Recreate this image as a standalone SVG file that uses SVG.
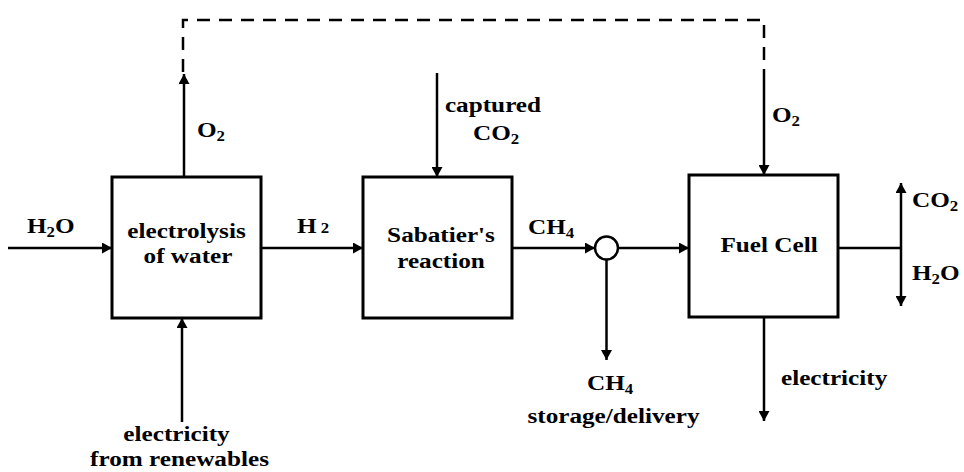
<svg xmlns="http://www.w3.org/2000/svg" width="964" height="472" viewBox="0 0 964 472">
<style>
.box{fill:#fff;stroke:#000;stroke-width:3}
.ln{fill:none;stroke:#000;stroke-width:2.5}
.dash{fill:none;stroke:#000;stroke-width:2.5;stroke-dasharray:13 9}
text{font-family:'Liberation Serif','DejaVu Serif',serif;font-weight:700;font-size:21px;fill:#000}
.c{text-anchor:middle}
.s{font-size:14px}
</style>
<defs>
<marker id="ah" markerWidth="11" markerHeight="11" refX="10" refY="5.5" orient="auto" markerUnits="userSpaceOnUse">
<path d="M0,0 L10,5.5 L0,11 Z" fill="#000"/>
</marker>
</defs>
<rect width="964" height="472" fill="#fff"/>
<g id="connectors">
<line class="ln" x1="8" y1="248" x2="112" y2="248" marker-end="url(#ah)"/>
<line class="ln" x1="261" y1="248" x2="363" y2="248" marker-end="url(#ah)"/>
<line class="ln" x1="512" y1="248" x2="595" y2="248" marker-end="url(#ah)"/>
<line class="ln" x1="618" y1="248" x2="689" y2="248" marker-end="url(#ah)"/>
<line class="ln" x1="606.5" y1="259.5" x2="606.5" y2="360" marker-end="url(#ah)"/>
<line class="ln" x1="184" y1="177" x2="184" y2="74" marker-end="url(#ah)"/>
<path class="dash" d="M183,72 L183,20 L764,20 L764,72"/>
<line class="ln" x1="764" y1="72" x2="764" y2="175" marker-end="url(#ah)"/>
<line class="ln" x1="437" y1="73" x2="437" y2="177" marker-end="url(#ah)"/>
<line class="ln" x1="182" y1="422" x2="182" y2="318" marker-end="url(#ah)"/>
<line class="ln" x1="838" y1="248" x2="901" y2="248"/>
<line class="ln" x1="901" y1="248" x2="901" y2="183" marker-end="url(#ah)"/>
<line class="ln" x1="901" y1="248" x2="901" y2="306" marker-end="url(#ah)"/>
<line class="ln" x1="764" y1="317" x2="764" y2="421" marker-end="url(#ah)"/>
</g>
<g id="electrolysis">
<rect class="box" x="112" y="177" width="149" height="141"/>
<text class="c" transform="translate(186.5,238) scale(1.2,1)">electrolysis</text>
<text class="c" transform="translate(188,263) scale(1.2,1)">of water</text>
</g>
<g id="sabatier">
<rect class="box" x="363" y="177" width="149" height="141"/>
<text class="c" transform="translate(441,242) scale(1.2,1)">Sabatier's</text>
<text class="c" transform="translate(441,268) scale(1.2,1)">reaction</text>
</g>
<g id="fuelcell">
<rect class="box" x="689" y="175" width="149" height="142"/>
<text class="c" transform="translate(769,252) scale(1.2,1)">Fuel Cell</text>
</g>
<g id="junction">
<circle cx="606.5" cy="248" r="11.5" fill="#fff" stroke="#000" stroke-width="2.5"/>
</g>
<g id="labels">
<text transform="translate(27,233) scale(1.2,1)">H<tspan class="s" dy="4">2</tspan><tspan dy="-4">O</tspan></text>
<text transform="translate(297,233) scale(1.2,1)">H<tspan class="s"> 2</tspan></text>
<text transform="translate(197,137) scale(1.2,1)">O<tspan class="s" dy="4">2</tspan></text>
<text transform="translate(772,122) scale(1.2,1)">O<tspan class="s" dy="4">2</tspan></text>
<text class="c" transform="translate(493,112) scale(1.2,1)">captured</text>
<text transform="translate(473,140) scale(1.2,1)">CO<tspan class="s" dy="4">2</tspan></text>
<text transform="translate(528,234) scale(1.2,1)">CH<tspan class="s" dy="4">4</tspan></text>
<text transform="translate(912,207) scale(1.2,1)">CO<tspan class="s" dy="4">2</tspan></text>
<text transform="translate(912,280) scale(1.2,1)">H<tspan class="s" dy="4">2</tspan><tspan dy="-4">O</tspan></text>
<text transform="translate(587,390) scale(1.2,1)">CH<tspan class="s" dy="4">4</tspan></text>
<text class="c" transform="translate(613.5,423) scale(1.2,1)">storage/delivery</text>
<text transform="translate(781,385) scale(1.2,1)">electricity</text>
<text class="c" transform="translate(176.5,441) scale(1.2,1)">electricity</text>
<text class="c" transform="translate(179.5,466) scale(1.2,1)">from renewables</text>
</g>
</svg>
